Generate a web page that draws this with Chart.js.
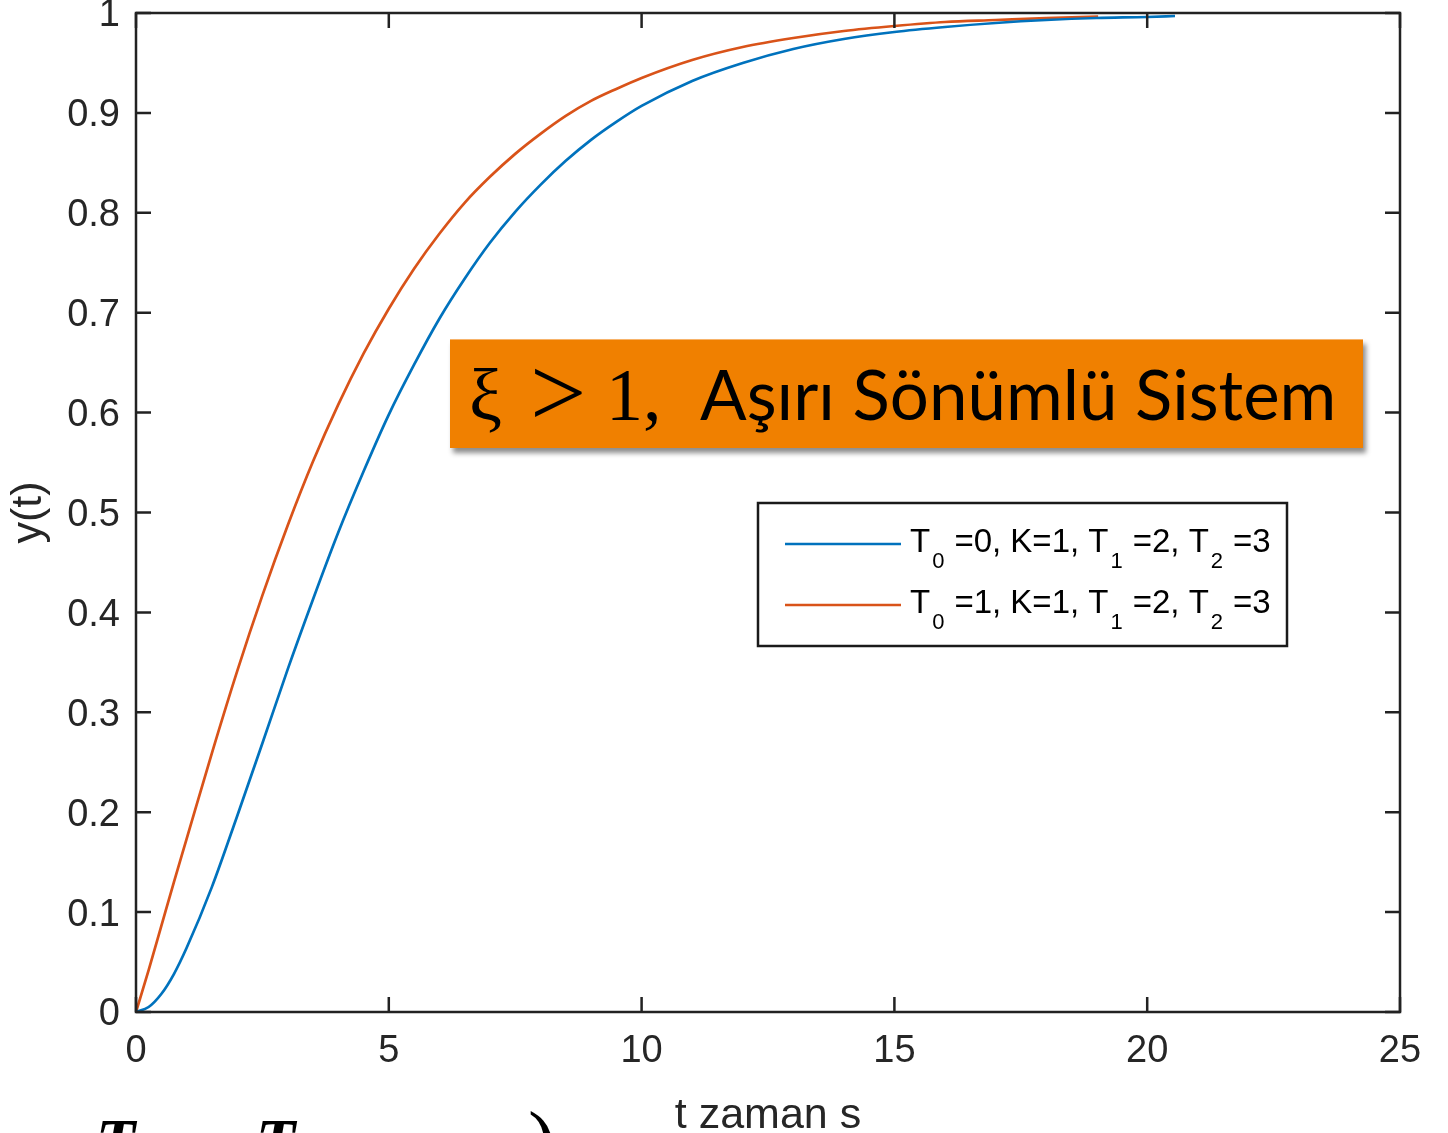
<!DOCTYPE html>
<html>
<head>
<meta charset="utf-8">
<script src="https://cdn.jsdelivr.net/npm/chart.js@4.4.1/dist/chart.umd.min.js"></script>
<style>
  html, body { margin: 0; padding: 0; background: #fff; }
  body { width: 1448px; height: 1133px; overflow: hidden; position: relative; }
  #plot { position: absolute; left: 0; top: 0; }
  .note {
    position: absolute; left: 450px; top: 339px; width: 913px; height: 109px;
    background: #f08000; border-top: 1px solid #f7b36a;
    box-shadow: 3px 5px 5px rgba(0,0,0,0.45);
    box-sizing: border-box;
  }
  .txt { position: absolute; line-height: 1; color: #000; white-space: pre; }
  .mathf { font-family: "Liberation Serif", "DejaVu Serif", serif; font-size: 74px; }
  .sans { font-family: Lato, "Open Sans", sans-serif; font-size: 69px; }
  .cut { font-family: "Liberation Serif", "DejaVu Serif", serif; font-style: italic; font-weight: bold; }
</style>
</head>
<body>
<canvas id="plot" width="1448" height="1133"></canvas>

<div class="note"></div>
<span class="txt mathf" style="left:469px; top:358px;">ξ</span>
<span class="txt mathf" style="left:530px; top:343px; font-size:100px;">&gt;</span>
<span class="txt mathf" style="left:606px; top:358px;">1,</span>
<span class="txt sans" style="left:700px; top:359px;">Aşırı Sönümlü Sistem</span>

<span class="txt cut" style="left:96px; top:1110px; font-size:64px;">T</span>
<span class="txt cut" style="left:256px; top:1110px; font-size:64px;">T</span>
<span class="txt cut" style="left:528px; top:1100px; font-size:84px; font-weight:normal; font-style:normal;">)</span>

<script>
// step responses, read at these times (s)
const tBlue = [0, 0.25, 0.5, 0.75, 1, 1.5, 2, 2.5, 3, 3.5, 4, 4.5, 5, 5.5, 6, 6.5, 7, 7.5, 8, 8.5, 9, 9.5, 10, 11, 12, 13, 14, 15, 16, 17, 18, 19, 20, 20.55];
const yBlue = [0, 0.005, 0.018, 0.038, 0.064, 0.125, 0.196, 0.269, 0.343, 0.413, 0.480, 0.541, 0.598, 0.648, 0.694, 0.734, 0.770, 0.801, 0.828, 0.852, 0.873, 0.891, 0.907, 0.932, 0.950, 0.964, 0.974, 0.981, 0.986, 0.990, 0.993, 0.995, 0.996, 0.997];

const tOrange = [0, 0.25, 0.5, 0.75, 1, 1.5, 2, 2.5, 3, 3.5, 4, 4.5, 5, 5.5, 6, 6.5, 7, 7.5, 8, 8.5, 9, 9.5, 10, 11, 12, 13, 14, 15, 16, 17, 18, 19.03];
const yOrange = [0, 0.042, 0.086, 0.130, 0.173, 0.259, 0.341, 0.417, 0.487, 0.551, 0.608, 0.659, 0.704, 0.744, 0.779, 0.810, 0.836, 0.859, 0.879, 0.897, 0.912, 0.924, 0.935, 0.953, 0.966, 0.975, 0.982, 0.987, 0.991, 0.993, 0.995, 0.9965];

// legend text, "_" marks a one-char subscript
const seriesNames = ["T_0=0, K=1, T_1=2, T_2=3", "T_0=1, K=1, T_1=2, T_2=3"];
const seriesColors = ["#0072BD", "#D95319"];

const xTicks = [0, 5, 10, 15, 20, 25];
const yTicks = [0, 0.1, 0.2, 0.3, 0.4, 0.5, 0.6, 0.7, 0.8, 0.9, 1];

const axisFont = "Liberation Sans, Arial, Helvetica, sans-serif";
const inkColor = "#262626";

function pts(ts, ys) {
  return ts.map((t, i) => ({ x: t, y: ys[i] }));
}

// box around the axes with inward tick marks on all four sides
const axesBox = {
  id: "axesBox",
  afterDatasetsDraw(chart) {
    const { ctx, chartArea: a, scales } = chart;
    const len = 15;
    ctx.save();
    ctx.strokeStyle = "#222";
    ctx.lineWidth = 2.5;
    ctx.beginPath();
    xTicks.forEach(v => {
      const px = scales.x.getPixelForValue(v);
      ctx.moveTo(px, a.bottom); ctx.lineTo(px, a.bottom - len);
      ctx.moveTo(px, a.top); ctx.lineTo(px, a.top + len);
    });
    yTicks.forEach(v => {
      const py = scales.y.getPixelForValue(v);
      ctx.moveTo(a.left, py); ctx.lineTo(a.left + len, py);
      ctx.moveTo(a.right, py); ctx.lineTo(a.right - len, py);
    });
    ctx.stroke();
    ctx.strokeRect(a.left, a.top, a.right - a.left, a.bottom - a.top);
    ctx.restore();
  }
};

// draws "T_0=..." style text, returns end x
function drawSubText(ctx, str, x, y, size) {
  const subSize = Math.round(size * 0.68);
  let i = 0;
  while (i < str.length) {
    const ch = str[i];
    if (ch === "_" && i + 1 < str.length) {
      ctx.font = subSize + "px " + axisFont;
      ctx.fillText(str[i + 1], x + 2, y + 16);
      x += ctx.measureText(str[i + 1]).width + 12;
      i += 2;
    } else {
      ctx.font = size + "px " + axisFont;
      ctx.fillText(ch, x, y);
      x += ctx.measureText(ch).width;
      i += 1;
    }
  }
  return x;
}

const boxLegend = {
  id: "boxLegend",
  afterDraw(chart) {
    const { ctx } = chart;
    const bx = 758, by = 503, bw = 529, bh = 143;
    ctx.save();
    ctx.fillStyle = "#fff";
    ctx.fillRect(bx, by, bw, bh);
    ctx.strokeStyle = "#1a1a1a";
    ctx.lineWidth = 2.5;
    ctx.strokeRect(bx, by, bw, bh);
    chart.data.datasets.forEach((ds, i) => {
      const ly = 544 + i * 61;
      ctx.strokeStyle = ds.borderColor;
      ctx.lineWidth = 2.5;
      ctx.beginPath();
      ctx.moveTo(785, ly);
      ctx.lineTo(901, ly);
      ctx.stroke();
      ctx.fillStyle = "#000";
      ctx.textBaseline = "alphabetic";
      drawSubText(ctx, ds.label, 910, ly + 8, 33);
    });
    ctx.restore();
  }
};

new Chart(document.getElementById("plot"), {
  type: "line",
  data: {
    datasets: [
      { label: seriesNames[0], data: pts(tBlue, yBlue), borderColor: seriesColors[0] },
      { label: seriesNames[1], data: pts(tOrange, yOrange), borderColor: seriesColors[1] }
    ]
  },
  options: {
    responsive: false,
    animation: false,
    devicePixelRatio: 1,
    layout: { padding: { top: 13, right: 48, left: 0, bottom: 0 } },
    elements: {
      point: { radius: 0 },
      line: { borderWidth: 2.7, cubicInterpolationMode: "monotone", fill: false }
    },
    plugins: { legend: { display: false }, tooltip: { enabled: false } },
    scales: {
      x: {
        type: "linear", min: 0, max: 25,
        afterFit: s => { s.height = 121; s.paddingLeft = 0; s.paddingRight = 0; },
        afterBuildTicks: s => { s.ticks = xTicks.map(v => ({ value: v })); },
        grid: { display: false, drawTicks: false },
        border: { display: false },
        ticks: { padding: 17, color: inkColor, font: { family: axisFont, size: 38 }, maxRotation: 0 },
        title: { display: true, text: "t zaman s", color: inkColor,
                 font: { family: axisFont, size: 43, lineHeight: 1 }, padding: { top: 0, bottom: -5 } }
      },
      y: {
        type: "linear", min: 0, max: 1,
        afterFit: s => { s.width = 136; s.paddingTop = 0; s.paddingBottom = 0; },
        afterBuildTicks: s => { s.ticks = yTicks.map(v => ({ value: v })); },
        grid: { display: false, drawTicks: false },
        border: { display: false },
        // empty first line nudges each label a few px below its tick
        ticks: { padding: 16, color: inkColor, font: { family: axisFont, size: 38, lineHeight: "6px" },
                 callback: v => ["", String(Number(v.toFixed(1)))] },
        title: { display: true, text: "y(t)", color: inkColor,
                 font: { family: axisFont, size: 43, lineHeight: 1 }, padding: { top: 8, bottom: 0 } }
      }
    }
  },
  plugins: [axesBox, boxLegend]
});
</script>
</body>
</html>
